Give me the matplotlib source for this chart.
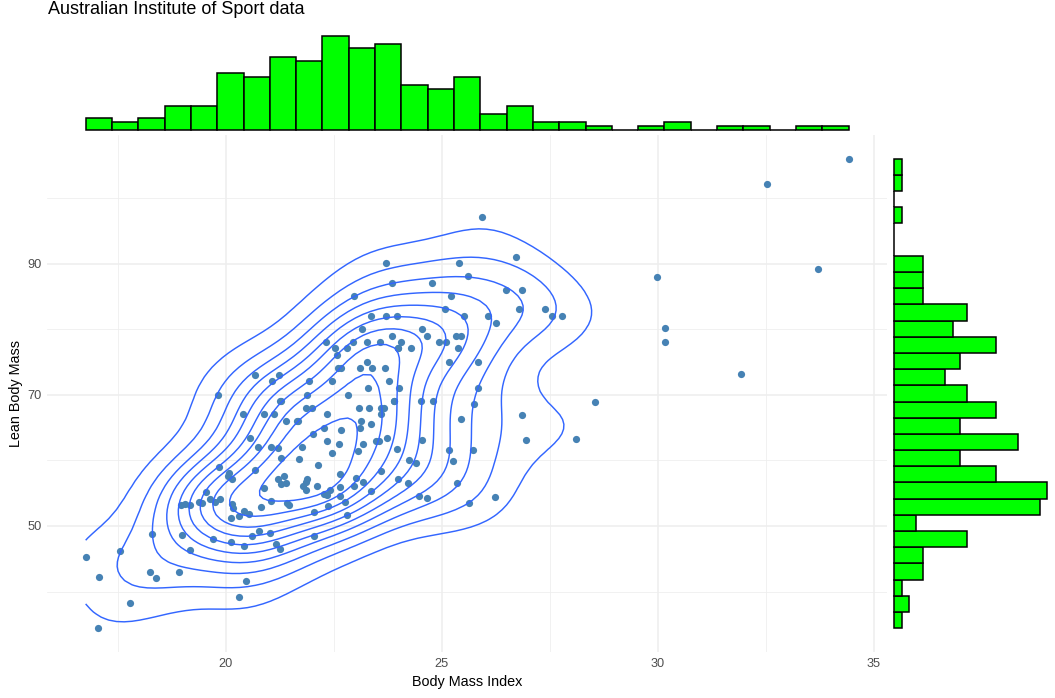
import numpy as np
import matplotlib
matplotlib.use('Agg')
import matplotlib.pyplot as plt

plt.rcParams['font.family'] = ['Liberation Sans', 'DejaVu Sans']

# scatter data
bmi = [16.76, 17.06, 17.55, 17.05, 17.79, 18.29, 18.26, 18.38, 18.93, 19.0, 19.17, 18.97, 19.07, 19.17, 19.38,
       19.45, 19.54, 19.64, 19.76, 19.88, 19.85, 20.07, 20.05, 20.15, 19.7, 20.13, 20.42, 20.46, 20.3, 20.15,
       20.17, 20.12, 20.3, 20.42, 20.54, 20.81, 21.04, 20.62, 20.77, 21.03, 21.16, 21.25, 20.88, 21.2, 21.27,
       21.35, 21.39, 21.41, 21.47, 20.67, 21.29, 21.69, 21.2, 21.04, 20.76, 20.56, 20.39, 20.89, 21.13, 21.27,
       21.39, 21.65, 21.68, 21.86, 22.01, 22.02, 21.76, 22.13, 21.88, 21.87, 21.78, 21.87, 22.12, 22.05, 22.04,
       22.35, 23.08, 23.31, 23.59, 23.67, 23.89, 24.51, 24.81, 25.75, 26.85, 25.45, 26.95, 23.59, 23.13, 23.12,
       23.36, 22.28, 22.68, 22.35, 22.62, 23.18, 23.47, 23.55, 23.73, 24.54, 23.97, 25.18, 25.73, 23.06, 22.46,
       25.27, 24.24, 24.4, 22.64, 23.59, 23.02, 23.19, 23.98, 24.21, 25.36, 22.64, 22.97, 23.36, 22.42, 22.27,
       22.35, 22.65, 22.77, 22.38, 22.81, 24.47, 24.65, 25.64, 26.24, 23.7, 23.85, 22.96, 23.36, 23.7, 23.97,
       23.16, 22.32, 22.94, 23.26, 23.57, 23.84, 22.52, 22.82, 23.98, 22.57, 23.26, 22.59, 22.68, 23.12, 23.39,
       23.68, 20.69, 21.24, 21.07, 21.94, 22.45, 23.77, 23.29, 24.01, 19.82, 21.89, 22.83, 21.26, 23.89, 25.93,
       25.39, 26.73, 24.78, 25.62, 26.5, 26.87, 25.21, 25.07, 26.79, 27.39, 27.56, 27.79, 25.51, 26.07, 26.26,
       24.55, 24.65, 25.32, 25.44, 24.07, 24.94, 25.09, 24.0, 24.28, 25.38, 25.18, 25.84, 25.83, 28.56, 34.42,
       32.52, 33.7, 29.98, 30.16, 30.16, 31.92, 28.1]
lbm = [45.3, 42.2, 46.15, 34.4, 38.3, 48.8, 43.0, 42.0, 43.0, 48.6, 46.35, 53.2, 53.4, 53.2, 53.7,
       53.5, 55.1, 54.1, 53.7, 54.1, 59.05, 58.0, 57.6, 57.1, 48.0, 47.6, 47.0, 41.6, 39.1, 53.3,
       52.75, 51.2, 51.5, 52.25, 51.8, 52.85, 53.8, 48.4, 49.15, 48.85, 47.2, 46.55, 55.8, 57.1, 56.35,
       57.6, 56.5, 53.5, 53.2, 58.6, 60.3, 60.25, 61.9, 62.05, 62.05, 63.4, 67.05, 67.05, 67.05, 69.0,
       66.05, 66.05, 66.0, 68.05, 68.05, 64.0, 62.05, 59.35, 57.2, 56.65, 56.1, 55.45, 56.05, 52.05, 48.4,
       67.0, 68.05, 68.05, 68.05, 68.05, 69.0, 69.0, 69.0, 68.6, 66.9, 66.25, 63.1, 67.05, 66.0, 65.0,
       65.5, 65.0, 64.65, 63.0, 62.5, 62.45, 63.0, 63.0, 63.4, 63.1, 61.75, 61.65, 61.5, 61.35, 61.05,
       59.9, 60.07, 59.6, 57.9, 58.3, 57.3, 56.7, 57.2, 56.5, 56.6, 56.0, 56.05, 55.4, 55.45, 54.8,
       54.7, 54.6, 53.6, 53.1, 51.6, 54.5, 54.2, 53.5, 54.4, 90.05, 87.05, 85.0, 82.0, 82.0, 82.0,
       80.0, 78.05, 78.05, 78.05, 78.05, 79.0, 77.05, 77.05, 77.05, 76.0, 75.05, 74.0, 74.0, 74.0, 74.0,
       74.0, 73.0, 73.0, 72.05, 72.05, 72.05, 72.05, 71.0, 71.0, 70.0, 70.0, 70.0, 69.0, 69.0, 97.07,
       90.05, 91.0, 87.05, 88.07, 86.04, 86.04, 85.0, 83.05, 83.05, 83.05, 82.03, 82.03, 82.03, 82.03, 81.0,
       80.04, 79.0, 79.0, 79.0, 78.06, 78.06, 78.06, 77.05, 77.05, 77.05, 75.0, 75.0, 71.05, 68.9, 106.0,
       102.2, 89.1, 88.0, 80.1, 78.1, 73.1, 63.2]

# marginal histogram counts, low to high
bmi_counts = [3, 2, 3, 6, 6, 14, 13, 18, 17, 23, 20, 21, 11, 10, 13, 4, 6, 2, 2, 1, 0, 1, 2, 0, 1, 1, 0, 1, 1]
lbm_counts = [1, 2, 1, 4, 4, 10, 3, 20, 21, 14, 9, 17, 9, 14, 10, 7, 9, 14, 8, 10, 4, 4, 4, 0, 0, 1, 0, 1, 1]

x = np.array(bmi)
y = np.array(lbm)


def nrd(v):
    # same rule as bandwidth.nrd / 4 in MASS::kde2d
    q = np.percentile(v, [25, 75])
    return 1.06 * min(np.std(v, ddof=1), (q[1] - q[0]) / 1.34) * len(v) ** (-0.2)


# 2d kernel density on the data range
gx = np.linspace(x.min(), x.max(), 100)
gy = np.linspace(y.min(), y.max(), 100)
hx = nrd(x)
hy = nrd(y)
kx = np.exp(-0.5 * ((gx[:, None] - x) / hx) ** 2) / (hx * np.sqrt(2 * np.pi))
ky = np.exp(-0.5 * ((gy[:, None] - y) / hy) ** 2) / (hy * np.sqrt(2 * np.pi))
dens = ky @ kx.T / len(x)

W, H = 1055, 698
fig = plt.figure(figsize=(W / 100, H / 100), dpi=100)


def panel(left, top, right, bottom):
    return fig.add_axes([left / W, 1 - bottom / H, (right - left) / W, (bottom - top) / H])


xlim = (15.867, 35.303)
ylim = (30.78, 109.58)

ax = panel(47.1, 135.1, 886.8, 652)
ax.set_xlim(xlim)
ax.set_ylim(ylim)
for v in [17.5, 22.5, 27.5, 32.5]:
    ax.axvline(v, color='#eeeeee', lw=0.55, zorder=0)
for v in [20, 25, 30, 35]:
    ax.axvline(v, color='#eeeeee', lw=1.1, zorder=0)
for v in [40, 60, 80, 100]:
    ax.axhline(v, color='#eeeeee', lw=0.55, zorder=0)
for v in [50, 70, 90]:
    ax.axhline(v, color='#eeeeee', lw=1.1, zorder=0)
ax.scatter(x, y, s=27, color='steelblue', linewidths=0, zorder=2)
ax.contour(gx, gy, dens, levels=np.arange(0.0005, dens.max(), 0.0005), colors='#3366FF', linewidths=1.05, zorder=3)
ax.set_xticks([20, 25, 30, 35])
ax.set_yticks([50, 70, 90])
ax.tick_params(length=0, labelsize=9.2, labelcolor='#4d4d4d', pad=4)
ax.set_xlabel('Body Mass Index', fontsize=10.35, labelpad=4)
ax.set_ylabel('Lean Body Mass', fontsize=10.35, labelpad=2.8)
for s in ax.spines.values():
    s.set_visible(False)

# top histogram
bx = x.min() + (x.max() - x.min()) * np.arange(29) / 29
top = panel(47.1, 31.5, 886.8, 135.1)
top.bar(bx, bmi_counts, width=(x.max() - x.min()) / 29, align='edge', color='#00FF00', edgecolor='black', linewidth=1.1)
top.set_xlim(xlim)
top.set_ylim(-1.15, 24.15)
top.axis('off')

# right histogram
by = y.min() + (y.max() - y.min()) * np.arange(29) / 29
right = panel(886.8, 135.1, 1054.5, 652)
right.barh(by, lbm_counts, height=(y.max() - y.min()) / 29, align='edge', color='#00FF00', edgecolor='black', linewidth=1.1)
right.set_ylim(ylim)
right.set_xlim(-1.05, 22.05)
right.axis('off')

fig.text(48 / W, 1 - 14 / H, 'Australian Institute of Sport data', fontsize=13, ha='left', va='baseline')

fig.savefig('out.png', dpi=100)
